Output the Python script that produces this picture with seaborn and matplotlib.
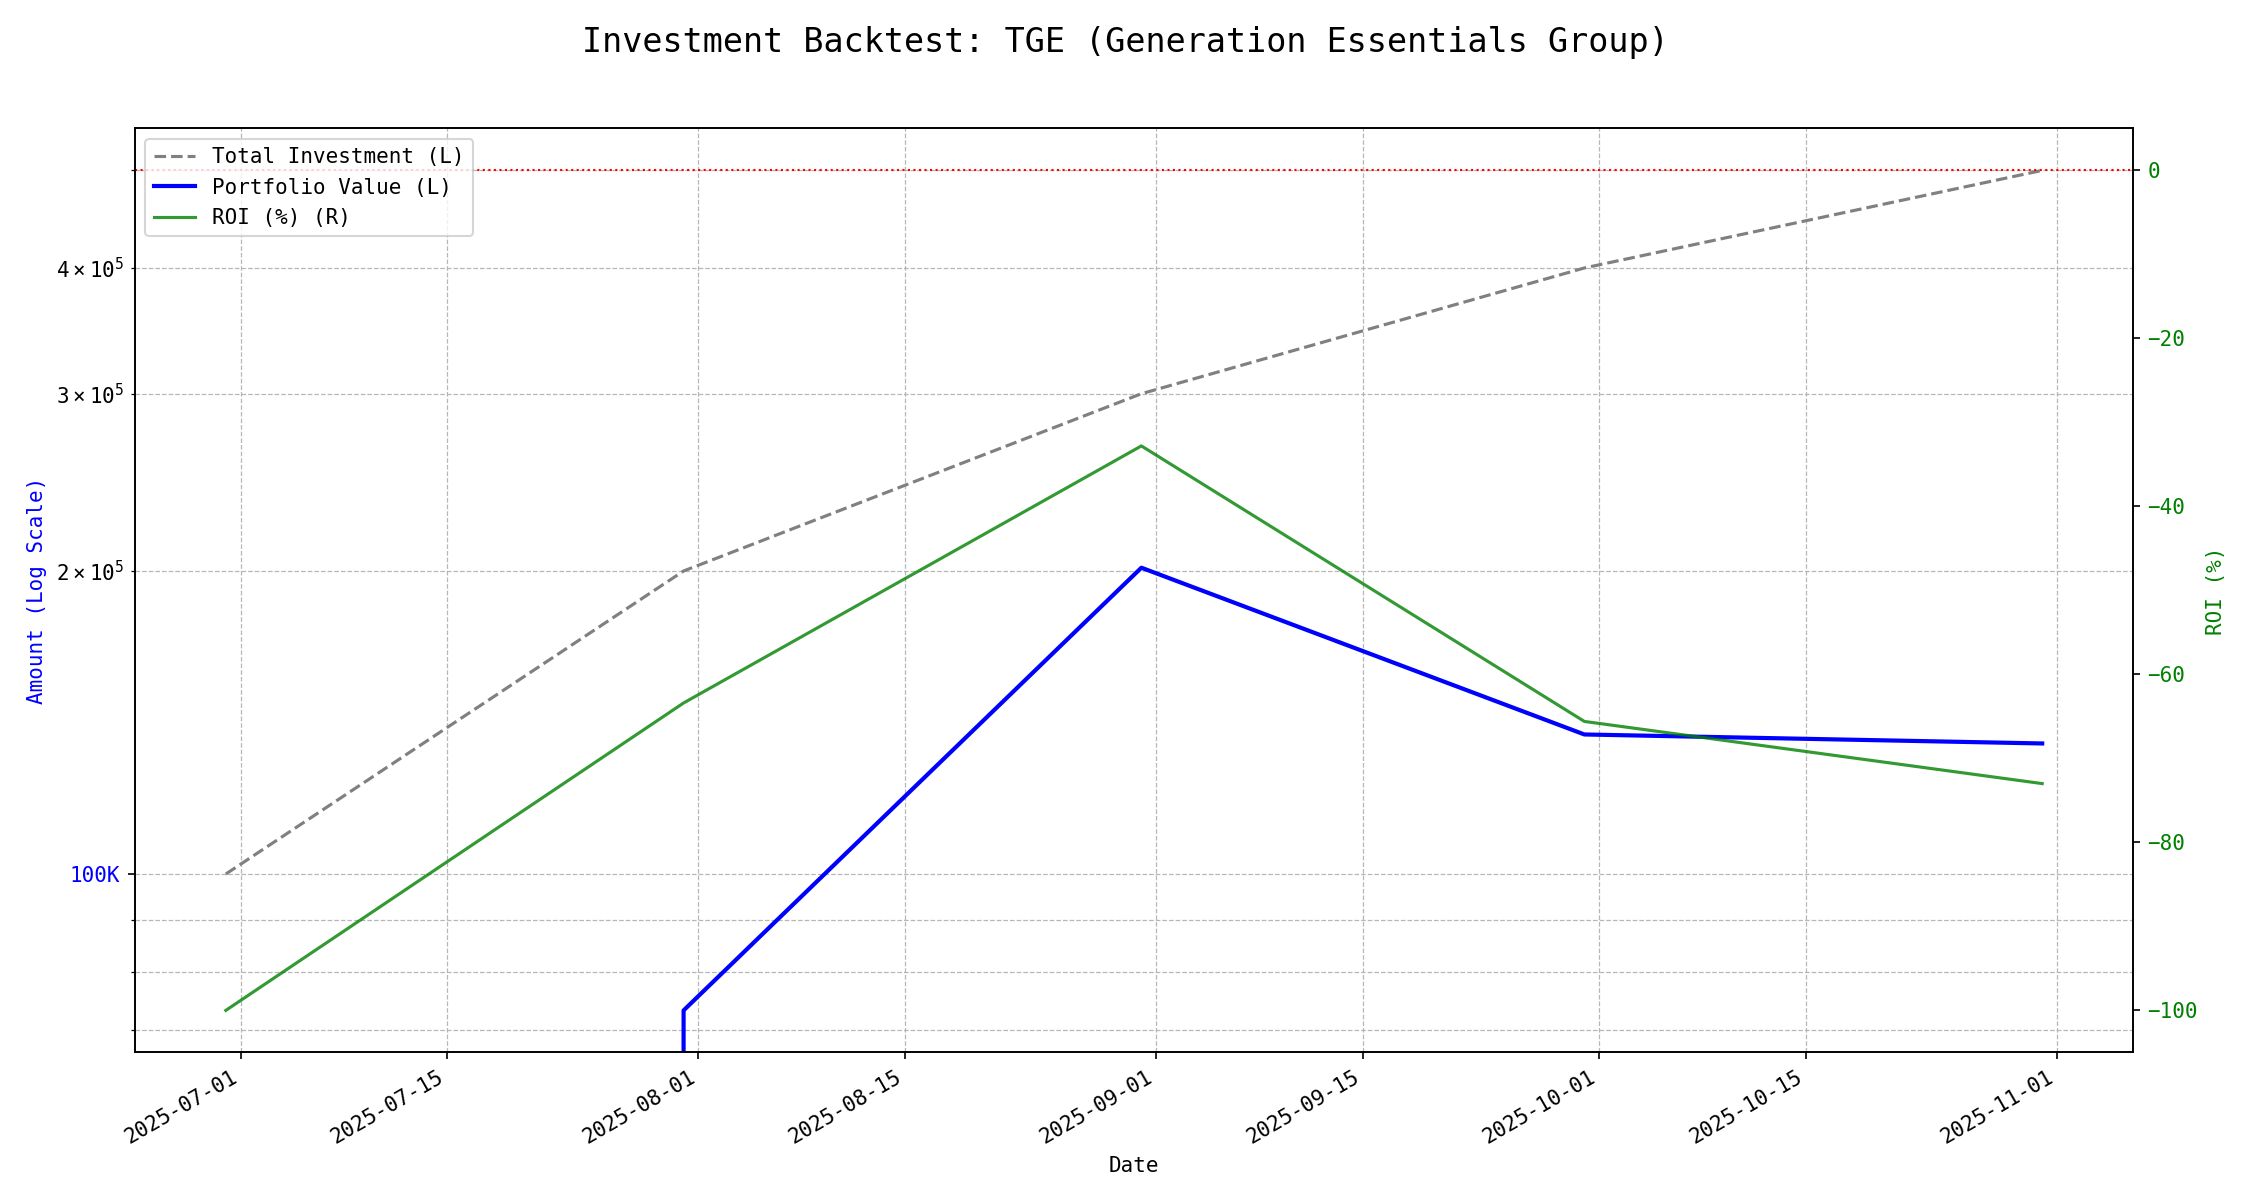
import matplotlib
matplotlib.use("Agg")
import matplotlib.pyplot as plt
import matplotlib.ticker as mticker
import numpy as np
import pandas as pd
import seaborn as sns

dates = ["2025-06-30", "2025-07-31", "2025-08-31", "2025-09-30", "2025-10-31"]
total_investment = [100000, 200000, 300000, 400000, 500000]
portfolio_value = [0, 73200, 201500, 137600, 134800]
roi_pct = [-100.0, -63.4, -32.8, -65.6, -73.0]

title = "Investment Backtest: TGE (Generation Essentials Group)"

plt.rcParams['font.family'] = ['DejaVu Sans Mono', 'DejaVu Sans']
plt.rcParams['font.size'] = 10

df = pd.DataFrame({
    "Date": pd.to_datetime(dates),
    "Total": total_investment,
    "Portfolio": portfolio_value,
    "ROI": roi_pct,
})

fig, ax1 = plt.subplots(figsize=(15, 8), dpi=150)

sns.lineplot(data=df, x="Date", y="Total", ax=ax1, color="gray", linestyle="--",
             linewidth=1.5, label="Total Investment (L)", legend=False)
sns.lineplot(data=df, x="Date", y="Portfolio", ax=ax1, color="blue",
             linewidth=2, label="Portfolio Value (L)", legend=False)
ax1.set_yscale("log")
ax1.yaxis.set_major_formatter(mticker.FuncFormatter(lambda v, p: f"{v/1000:.0f}K"))
ax1.set_ylabel("Amount (Log Scale)", color="blue")
ax1.tick_params(axis="y", labelcolor="blue")
ax1.set_xlabel("Date")
ax1.grid(True, which="both", linestyle="--", alpha=0.9, linewidth=0.6)

ax2 = ax1.twinx()
sns.lineplot(data=df, x="Date", y="ROI", ax=ax2, color="green", alpha=0.8,
             linewidth=1.5, label="ROI (%) (R)", legend=False)
ax2.axhline(0, color="red", linestyle=":", linewidth=1)
ax2.set_ylabel("ROI (%)", color="green")
ax2.tick_params(axis="y", labelcolor="green")

h1, l1 = ax1.get_legend_handles_labels()
h2, l2 = ax2.get_legend_handles_labels()
if ax1.get_legend():
    ax1.get_legend().remove()
ax2.legend(h1 + h2, l1 + l2, loc="upper left")

fig.suptitle(title, fontsize=16, y=0.978)
fig.autofmt_xdate()
ax1.set_xlabel("Date")
fig.subplots_adjust(left=0.06, right=0.948, top=0.893, bottom=0.123)

fig.savefig("out.png", dpi=150)
